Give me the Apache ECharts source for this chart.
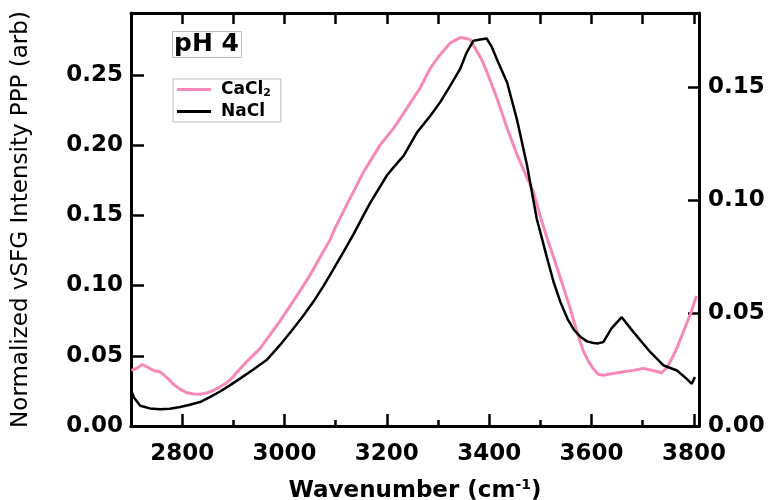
<!DOCTYPE html>
<html>
<head>
<meta charset="utf-8">
<title>pH 4 vSFG</title>
<script src="https://cdn.jsdelivr.net/npm/echarts@6.0.0/dist/echarts.min.js"></script>
<style>
  html, body { margin: 0; padding: 0; background: #ffffff; }
  #chart { width: 770px; height: 500px; }
</style>
</head>
<body>
<div id="chart"></div>
<script>
// CaCl2 spectrum, left axis: [wavenumber, intensity]
const cacl2Data = [
  [2701, 0.0396], [2712, 0.0412], [2722, 0.0438], [2732, 0.0420], [2744, 0.0395],
  [2757, 0.0385], [2770, 0.0345], [2783, 0.0297], [2796, 0.0262], [2809, 0.0237],
  [2822, 0.0228], [2835, 0.0226], [2848, 0.0236], [2861, 0.0254], [2874, 0.0279],
  [2887, 0.0308], [2900, 0.0352], [2913, 0.0408], [2932, 0.0480], [2952, 0.0551],
  [2971, 0.0645], [2991, 0.0747], [3010, 0.0850], [3030, 0.0960], [3050, 0.1075],
  [3069, 0.1197], [3089, 0.1325], [3099, 0.1410], [3128, 0.1620], [3154, 0.1805],
  [3187, 0.2001], [3213, 0.2119], [3239, 0.2261], [3265, 0.2406], [3285, 0.2548],
  [3304, 0.2643], [3324, 0.2726], [3343, 0.2765], [3356, 0.2758], [3363, 0.2750],
  [3376, 0.2667], [3385, 0.2610], [3395, 0.2525], [3415, 0.2335], [3435, 0.2122],
  [3454, 0.1935], [3474, 0.1766], [3486, 0.1671], [3500, 0.1490], [3513, 0.1339],
  [3526, 0.1200], [3539, 0.1055], [3558, 0.0841], [3571, 0.0676], [3584, 0.0533],
  [3594, 0.0460], [3604, 0.0405], [3613, 0.0368], [3623, 0.0362], [3639, 0.0372],
  [3660, 0.0385], [3682, 0.0396], [3701, 0.0410], [3720, 0.0395], [3737, 0.0379],
  [3747, 0.0415], [3757, 0.0480], [3767, 0.0557], [3780, 0.0676], [3793, 0.0794],
  [3805, 0.0925]
];

// NaCl spectrum, right axis
const naclData = [
  [2700, 0.0160], [2706, 0.0125], [2718, 0.0090], [2737, 0.0078], [2757, 0.0074],
  [2776, 0.0076], [2796, 0.0084], [2815, 0.0094], [2835, 0.0106], [2854, 0.0128],
  [2874, 0.0153], [2893, 0.0180], [2913, 0.0210], [2939, 0.0250], [2965, 0.0292],
  [2991, 0.0358], [3017, 0.0431], [3037, 0.0490], [3056, 0.0549], [3076, 0.0620],
  [3096, 0.0696], [3115, 0.0770], [3135, 0.0850], [3154, 0.0932], [3168, 0.0991],
  [3200, 0.1110], [3213, 0.1146], [3233, 0.1198], [3259, 0.1301], [3285, 0.1375],
  [3304, 0.1434], [3324, 0.1508], [3343, 0.1581], [3356, 0.1655], [3369, 0.1707],
  [3379, 0.1711], [3395, 0.1717], [3405, 0.1680], [3415, 0.1625], [3435, 0.1522],
  [3454, 0.1360], [3474, 0.1154], [3493, 0.0917], [3500, 0.0858], [3513, 0.0745],
  [3526, 0.0637], [3539, 0.0550], [3553, 0.0475], [3566, 0.0425], [3579, 0.0394],
  [3591, 0.0375], [3604, 0.0368], [3613, 0.0366], [3623, 0.0372], [3639, 0.0433],
  [3659, 0.0482], [3682, 0.0416], [3715, 0.0327], [3741, 0.0268], [3767, 0.0246],
  [3786, 0.0209], [3796, 0.0187], [3802, 0.0217]
];

// ticks
const xMajorTicks = [2800, 3000, 3200, 3400, 3600, 3800];
const xMinorTicks = [2900, 3100, 3300, 3500, 3700];
const xTopTicks = [2800, 2900, 3000, 3100, 3200, 3300, 3400, 3500, 3600, 3700, 3800];
const yLeftTicks = [0, 0.05, 0.10, 0.15, 0.20, 0.25];
const yRightTicks = [0, 0.05, 0.10, 0.15];

const X_MIN = 2700, X_MAX = 3810;
const YL_MIN = 0, YL_MAX = 0.294;
const YR_MIN = 0, YR_MAX = 0.183;
const FONT = 'DejaVu Sans';
const axisLineStyle = { color: '#000', width: 3 };
const tickStroke = { color: '#000', width: 2.5 };
const tickLabel = { fontFamily: FONT, fontSize: 23, fontWeight: 'bold', color: '#000' };

// every frame edge lives in its own grid (same box) with a hidden partner axis,
// so that the edge sits on that partner's zero line
const box = () => ({ left: 131, right: 71, top: 13, bottom: 74, containLabel: false, outerBoundsMode: 'none' });
const hidden = (grid, min, max) => ({ gridIndex: grid, type: 'value', show: false, min: min, max: max });

const chart = echarts.init(document.getElementById('chart'));
chart.setOption({
  animation: false,
  backgroundColor: '#ffffff',
  title: {
    text: 'pH 4',
    left: 172,
    top: 31,
    padding: [1, 3, 1, 2],
    borderColor: '#bbbbbb',
    borderWidth: 1,
    textStyle: { fontFamily: FONT, fontSize: 25, fontWeight: 'bold', color: '#000' }
  },
  legend: {
    orient: 'vertical',
    left: 173,
    top: 79,
    padding: [2, 10, 2, 4],
    itemGap: 4,
    itemWidth: 34,
    itemHeight: 3,
    icon: 'rect',
    borderColor: '#bbbbbb',
    borderWidth: 1,
    data: ['CaCl2', 'NaCl'],
    formatter: name => name === 'CaCl2' ? '{b|CaCl}{s|2}' : '{b|NaCl}',
    textStyle: {
      padding: [0, 0, 0, 5],
      rich: {
        b: { fontFamily: FONT, fontSize: 17, fontWeight: 'bold', color: '#000', lineHeight: 20 },
        s: { fontFamily: FONT, fontSize: 11, fontWeight: 'bold', color: '#000', padding: [8, 0, 0, 0] }
      }
    }
  },
  grid: [box(), box(), box(), box(), box(), box()],
  xAxis: [
    // 0: bottom axis, labels, major ticks (sits on zero of hidden y in grid 0)
    {
      gridIndex: 0,
      type: 'value',
      position: 'bottom',
      min: X_MIN,
      max: X_MAX,
      name: '{a|Wavenumber (cm}{sup|-1}{a|)}',
      nameLocation: 'middle',
      nameGap: 52,
      nameTextStyle: {
        rich: {
          a: { fontFamily: FONT, fontSize: 23, fontWeight: 'bold', color: '#000' },
          sup: { fontFamily: FONT, fontSize: 14, fontWeight: 'bold', color: '#000', padding: [0, 0, 12, 0] }
        }
      },
      axisLine: { show: true, onZero: true, lineStyle: axisLineStyle },
      axisTick: { show: true, inside: true, length: 12, lineStyle: tickStroke, customValues: xMajorTicks },
      axisLabel: Object.assign({ customValues: xMajorTicks, margin: 17, formatter: v => String(v) }, tickLabel),
      splitLine: { show: false }
    },
    // 1: bottom minor ticks
    {
      gridIndex: 1,
      type: 'value',
      position: 'bottom',
      min: X_MIN,
      max: X_MAX,
      axisLine: { show: true, onZero: true, lineStyle: axisLineStyle },
      axisTick: { show: true, inside: true, length: 6, lineStyle: tickStroke, customValues: xMinorTicks },
      axisLabel: { show: true, customValues: xMinorTicks, formatter: () => '' },
      splitLine: { show: false }
    },
    // 2: top axis (hidden y runs -1..0, so zero is at the top)
    {
      gridIndex: 2,
      type: 'value',
      position: 'top',
      min: X_MIN,
      max: X_MAX,
      axisLine: { show: true, onZero: true, lineStyle: axisLineStyle },
      axisTick: { show: true, inside: true, length: 11, lineStyle: tickStroke, customValues: xTopTicks },
      axisLabel: { show: true, customValues: xTopTicks, formatter: () => '' },
      splitLine: { show: false }
    },
    hidden(3, 0, 1),     // left axis sits on this zero
    hidden(4, -1, 0),    // right axis sits on this zero
    hidden(5, X_MIN, X_MAX)
  ],
  yAxis: [
    hidden(0, YL_MIN, YL_MAX),
    hidden(1, 0, 1),
    hidden(2, -1, 0),
    // 3: left axis
    {
      gridIndex: 3,
      type: 'value',
      position: 'left',
      min: YL_MIN,
      max: YL_MAX,
      name: 'Normalized vSFG Intensity PPP (arb)',
      nameLocation: 'middle',
      nameGap: 98,
      nameTextStyle: { fontFamily: FONT, fontSize: 23, color: '#000' },
      axisLine: { show: true, onZero: true, lineStyle: axisLineStyle },
      axisTick: { show: true, inside: true, length: 13, lineStyle: tickStroke, customValues: yLeftTicks },
      axisLabel: Object.assign({ customValues: yLeftTicks, margin: 8, formatter: v => v.toFixed(2) }, tickLabel),
      splitLine: { show: false }
    },
    // 4: right axis
    {
      gridIndex: 4,
      type: 'value',
      position: 'right',
      min: YR_MIN,
      max: YR_MAX,
      axisLine: { show: true, onZero: true, lineStyle: axisLineStyle },
      axisTick: { show: true, inside: true, length: 11, lineStyle: tickStroke, customValues: yRightTicks },
      axisLabel: Object.assign({ customValues: yRightTicks, margin: 9, formatter: v => v.toFixed(2) }, tickLabel),
      splitLine: { show: false }
    },
    hidden(5, YR_MIN, YR_MAX)
  ],
  series: [
    {
      name: 'CaCl2',
      type: 'line',
      xAxisIndex: 0,
      yAxisIndex: 0,
      data: cacl2Data,
      showSymbol: false,
      symbol: 'none',
      color: '#f788b8',
      lineStyle: { color: '#f788b8', width: 3 }
    },
    {
      name: 'NaCl',
      type: 'line',
      xAxisIndex: 5,
      yAxisIndex: 5,
      data: naclData,
      showSymbol: false,
      symbol: 'none',
      color: '#000000',
      lineStyle: { color: '#000000', width: 2.5 }
    }
  ]
});
</script>
</body>
</html>
